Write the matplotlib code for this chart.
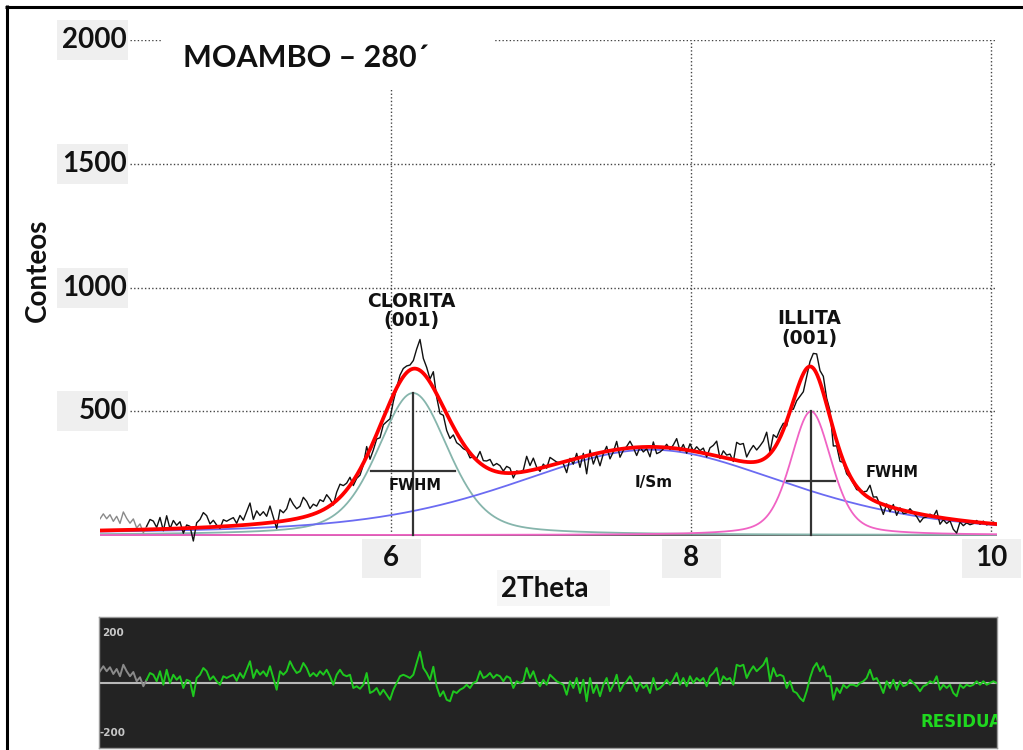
"""XRD peak decomposition of the MOAMBO 280' clay fraction, with residual strip."""

import matplotlib
matplotlib.use("Agg")
import matplotlib.pyplot as plt
import numpy as np
from matplotlib.lines import Line2D
from matplotlib.patches import Rectangle

# scan sampling, degrees 2-theta (step 1/45 deg)
two_theta = 4.06 + np.arange(270) / 45.0
fit_start = 4.37  # points below this were left out of the fit

# observed minus calculated, counts
residual = np.array([
    47, 67, 47, 63, 36, 56, 27, 73, 47, 27, 44, 7, 23, -13, 13, 40, 33, 7, 47, -7,
    53, 0, 33, 13, 27, -20, 13, 7, -53, 20, 33, 60, 47, 13, 27, 7, -7, 27, 20, 27,
    33, 9, 40, 20, 53, 87,
    20, 53, 33, 47, 27, 67, 20, -27, 47, 33, 47, 87, 60, 40, 47, 80, 60, 27, 40, 27,
    47, 33, 53, 27, -7, 33, 53, 33, 27, 33, -20, -13, -23, -7, 40, -40, -33, -20, -47, -27,
    -47, -67, -27, 0, 27,
    33, 27, 20, 33, 80, 125, 60, 40, 13, 65, -13, -53, -33, -67, -73, -33, -40, -27, -20, -7,
    -20, 0, 7, 47, 20, 27, 40, 20, 33, 27, 7, 27, 20, -20, 7, 0, 7, 60, 20, 47,
    7, -13, 13, -7, 33,
    20, 7, 0, -7, -47, 7, -20, 20, -40, 13, -73, 20, -40, -7, -53, -7, 20, -33, -7, 33,
    -33, -7, 7, 27, 0, -33, 0, -20, -7, -40, 20, -27, -20, -7, 13, -7, 13, 40, -7, 20,
    -13, 27, 0, 20, 7,
    20, -13, 27, 40, 60, -7, 27, 13, 20, -7, 73, 67, 73, 20, 47, 67, 47, 60, 73, 100,
    7, 60, 27, 33, 27, -20, 7, -33, -40, -60, -73, -33, 20, 60, 80, 47, 67, 27, 27, -67,
    -20, -40, -7, -20, -7,
    -7, -13, 0, 7, 20, 53, 13, 20, -7, -40, 7, -20, 13, -27, 7, -13, -7, 13, 0, -13,
    -33, -13, -7, 7, 0, 27, -27, -7, -20, -7, -40, -53, -7, -20, -7, -13, -7, 7, -7, 7,
    -7, 0, 7, 0,
])

# fitted pseudo-Voigt components: chlorite, interstratified I/Sm, illite
peak_center = [6.147, 7.73, 8.80]
peak_height = [574, 345, 500]
peak_fwhm = [0.56, 2.2, 0.322]
peak_eta = [0.4, 0.5, 0.4]
fwhm_bar = [258, None, 218]  # counts at which the FWHM marker is drawn

y_ticks = [500, 1000, 1500, 2000]
x_ticks = [6, 8, 10]

W, H = 1023, 750


def pseudo_voigt(x, c, h, w, eta):
    d = (x - c) / (w / 2.0)
    return h * (eta / (1 + d ** 2) + (1 - eta) * np.exp(-np.log(2) * d ** 2))


def fig_xy(px, py):
    """pixel position (origin top-left) -> figure fraction"""
    return px / W, 1 - py / H


fig = plt.figure(figsize=(W / 100, H / 100), dpi=100)

ax = fig.add_axes([100 / W, 1 - 545 / H, 897 / W, 505 / H])
ax.set_xlim(4.06, 10.04)
ax.set_ylim(-40, 2000)
ax.set_axis_off()

dots = dict(color="#444444", lw=1.0, ls=(0, (1, 1.6)), zorder=1)
for v in y_ticks:
    ax.axhline(v, xmin=30 / 897, xmax=1, **dots)
for v in x_ticks:
    ax.axvline(v, ymin=40 / 2040, ymax=1, **dots)
ax.axhline(0, color="#555555", lw=1.3, zorder=2)

fine = np.linspace(4.06, 10.04, 1500)
comps = [pseudo_voigt(fine, c, h, w, e)
         for c, h, w, e in zip(peak_center, peak_height, peak_fwhm, peak_eta)]
for y, col in zip(comps, ["#86b5ac", "#6b6bf2", "#f063c4"]):
    ax.plot(fine, y, color=col, lw=1.3, zorder=2)

calc = sum(pseudo_voigt(two_theta, c, h, w, e)
           for c, h, w, e in zip(peak_center, peak_height, peak_fwhm, peak_eta))
observed = calc + residual
excl = two_theta <= fit_start + 0.01
incl = two_theta >= fit_start - 0.02
ax.plot(two_theta[excl], observed[excl], color="#8a8a8a", lw=1.0, zorder=3)
ax.plot(two_theta[incl], observed[incl], color="#111111", lw=1.0, zorder=3)
ax.plot(fine, sum(comps), color="#ff0000", lw=2.7, zorder=4)

# peak position and FWHM markers
for c, h, w, lev in zip(peak_center, peak_height, peak_fwhm, fwhm_bar):
    if lev is None:
        continue
    ax.plot([c, c], [0, h], color="#333333", lw=1.6, zorder=5)
    ax.plot([c - w / 2, c + w / 2], [lev, lev], color="#333333", lw=1.6, zorder=5)

lab = dict(family="DejaVu Sans", weight="bold", color="#111111", zorder=6)
ax.text(peak_center[0] - 0.01, 905, "CLORITA\n(001)", ha="center", va="center",
        fontsize=13.5, linespacing=1.05, **lab)
ax.text(peak_center[2] - 0.01, 835, "ILLITA\n(001)", ha="center", va="center",
        fontsize=13.5, linespacing=1.05, **lab)
ax.text(6.16, 202, "FWHM", ha="center", va="center", fontsize=10.5, **lab)
ax.text(9.34, 254, "FWHM", ha="center", va="center", fontsize=10.5, **lab)
ax.text(7.75, 214, "I/Sm", ha="center", va="center", fontsize=11, **lab)

# title on a white card that masks the grid behind it
fig.add_artist(Rectangle(fig_xy(163, 90), 330 / W, 70 / H, transform=fig.transFigure,
                         facecolor="white", edgecolor="none", zorder=1))
big = dict(family="Lato", weight="bold", color="#111111", zorder=2)
fig.text(*fig_xy(183, 58), "MOAMBO – 280´", ha="left", va="center", fontsize=22, **big)

# tick labels on light grey cards
fig.canvas.draw()
for v in y_ticks:
    py = H - ax.transData.transform((5, v))[1]
    fig.add_artist(Rectangle(fig_xy(57, py + 20), 71 / W, 40 / H, transform=fig.transFigure,
                             facecolor="#efefef", edgecolor="none", zorder=1))
    fig.text(*fig_xy(127, py), str(v), ha="right", va="center", fontsize=20, **big)
for v in x_ticks:
    px = ax.transData.transform((v, 0))[0]
    fig.add_artist(Rectangle(fig_xy(px - 29, 578), 59 / W, 39 / H, transform=fig.transFigure,
                             facecolor="#efefef", edgecolor="none", zorder=1))
    fig.text(*fig_xy(px, 558), str(v), ha="center", va="center", fontsize=20, **big)

fig.add_artist(Rectangle(fig_xy(497, 606), 113 / W, 36 / H, transform=fig.transFigure,
                         facecolor="#f6f6f6", edgecolor="none", zorder=1))
fig.text(*fig_xy(545, 589), "2Theta", ha="center", va="center", fontsize=20, **big)
fig.text(*fig_xy(38, 270), "Conteos", ha="center", va="center", rotation=90,
         fontsize=20, **big)

# residual strip
rax = fig.add_axes([99 / W, 2 / H, 898 / W, 131 / H])
rax.set_facecolor("#232323")
rax.set_xlim(4.06 - 1 / 150, 10.04)
rax.set_ylim(-260, 264)
rax.set_xticks([])
rax.set_yticks([])
for s in rax.spines.values():
    s.set_color("#9a9a9a")
    s.set_linewidth(1.0)
rax.axhline(0, color="#b8b8b8", lw=1.5, zorder=1)
rax.plot(two_theta[excl], residual[excl], color="#8a8a8a", lw=1.4, zorder=2)
rax.plot(two_theta[incl], residual[incl], color="#1ec81e", lw=1.4, zorder=2)
small = dict(family="DejaVu Sans", weight="bold", va="center")
rax.text(4.06 + 2 / 150, 200, "200", color="#c8c8c8", fontsize=7.5, **small)
rax.text(4.06, -200, "-200", color="#c8c8c8", fontsize=7.5, **small)
rax.text(9.53, -156, "RESIDUAL", color="#1fd81f", fontsize=12, clip_on=True, **small)

# outer frame
frame = dict(color="black", lw=2.2, transform=fig.transFigure, solid_capstyle="butt")
fig.add_artist(Line2D([6.5 / W, 6.5 / W], [0, 1 - 5 / H], **frame))
fig.add_artist(Line2D([5 / W, 1], [1 - 6.5 / H, 1 - 6.5 / H], **frame))

fig.savefig("out.png", dpi=100, facecolor="white")
plt.close(fig)
